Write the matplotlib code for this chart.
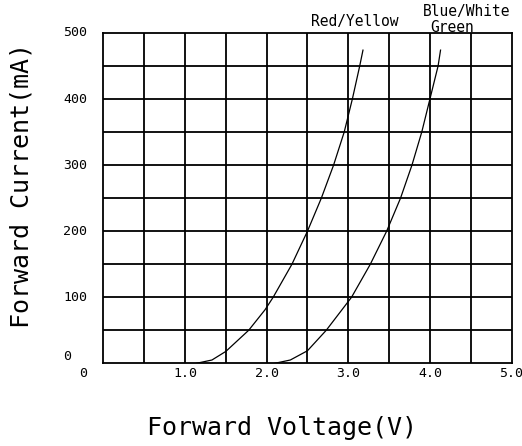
import numpy as np
import matplotlib.pyplot as plt
from matplotlib.transforms import blended_transform_factory

# Datos (corriente en mA, tension en V)
corriente_roja = [0, 5, 18, 50, 81, 100, 150, 200, 250, 300, 350, 400, 450, 474]
tension_roja = [1.14, 1.33, 1.50, 1.78, 1.98, 2.08, 2.31, 2.50, 2.67, 2.82, 2.95, 3.05, 3.14, 3.18]

corriente_azul = [0, 5, 19, 50, 100, 150, 200, 250, 300, 350, 400, 450, 474]
tension_azul = [2.10, 2.29, 2.50, 2.73, 3.04, 3.27, 3.47, 3.64, 3.78, 3.90, 4.00, 4.10, 4.13]

x_ticks = [0, 1, 2, 3, 4, 5]
x_labels = ["0", "1.0", "2.0", "3.0", "4.0", "5.0"]
y_ticks = [0, 100, 200, 300, 400, 500]
y_labels = ["0", "100", "200", "300", "400", "500"]

fuente = "DejaVu Sans Mono"

fig = plt.figure(figsize=(5.22, 4.46), dpi=100)
ax = fig.add_axes([0.198, 0.1854, 0.782, 0.7407])

ax.set_xlim(0, 5)
ax.set_ylim(0, 500)
ax.set_xticks([])
ax.set_yticks([])

# Cuadricula cada 0.5 V y 50 mA
for v in np.arange(0.5, 5.0, 0.5):
    ax.axvline(v, color="black", lw=1.3)
for i in np.arange(50, 500, 50):
    ax.axhline(i, color="black", lw=1.3)
for s in ax.spines.values():
    s.set_linewidth(1.3)

# Curvas
ax.plot(tension_roja, corriente_roja, color="black", lw=0.9)
ax.plot(tension_azul, corriente_azul, color="black", lw=0.9)

# Etiquetas de los ejes
tr_y = blended_transform_factory(ax.transAxes, ax.transData)
for v, s in zip(y_ticks, y_labels):
    ax.text(-0.099, v, s, transform=tr_y, ha="left",
            va="bottom" if v == 0 else "center",
            fontsize=9.5, family=fuente, clip_on=False)

tr_x = blended_transform_factory(ax.transData, ax.transAxes)
for v, s in zip(x_ticks, x_labels):
    xpos = -0.25 if v == 0 else v
    ax.text(xpos, -0.03, s, transform=tr_x, ha="center", va="center",
            fontsize=9.5, family=fuente, clip_on=False)

fig.text(0.540, 0.040, "Forward Voltage(V)", ha="center", va="center",
         fontsize=18, family=fuente)
fig.text(0.042, 0.585, "Forward Current(mA)", ha="center", va="center",
         rotation=90, fontsize=18, family=fuente)

# Nombres de las curvas
ax.text(3.08, 517, "Red/Yellow", ha="center", va="center",
        fontsize=10.5, family=fuente, clip_on=False)
ax.text(3.91, 533, "Blue/White", ha="left", va="center",
        fontsize=10.5, family=fuente, clip_on=False)
ax.text(4.01, 509, "Green", ha="left", va="center",
        fontsize=10.5, family=fuente, clip_on=False)

fig.savefig("out.png", dpi=100)
